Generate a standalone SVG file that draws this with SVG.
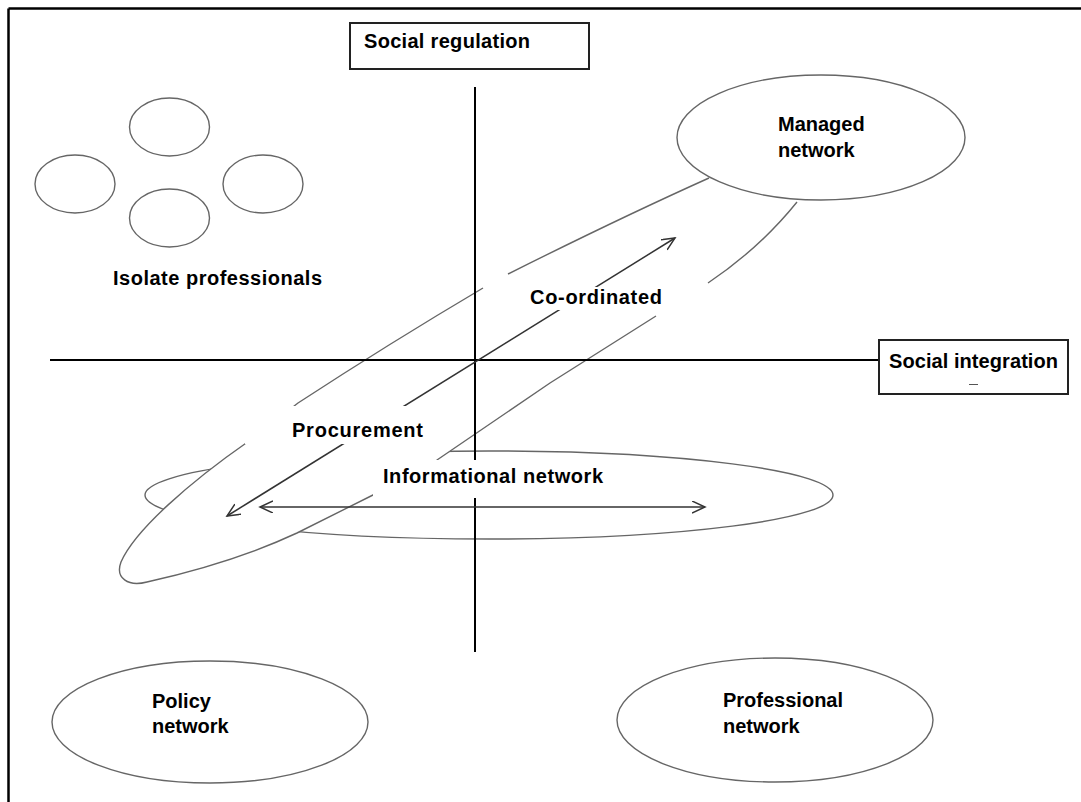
<svg xmlns="http://www.w3.org/2000/svg" width="1081" height="802" viewBox="0 0 1081 802">
<defs>
<style>
.frame{stroke:#000;stroke-width:2.5;fill:none}
.axis{stroke:#000;stroke-width:2;fill:none}
.ell{stroke:#666;stroke-width:1.4;fill:#fff}
.fill{fill:#fff;stroke:none}
.line{stroke:#666;stroke-width:1.4;fill:none}
.box{stroke:#222;stroke-width:2;fill:#fff}
.mask{fill:#fff;stroke:none}
.arrow{stroke:#333;stroke-width:1.5;fill:none}
.t{font-family:"Liberation Sans",Arial,sans-serif;font-weight:bold;font-size:20px;fill:#000}
</style>
<marker id="ah" markerUnits="userSpaceOnUse" markerWidth="16" markerHeight="14" refX="13" refY="6" orient="auto-start-reverse">
<path d="M0,0 L13,6 L0,12" fill="none" stroke="#333" stroke-width="1.5"/>
</marker>
</defs>
<rect width="1081" height="802" fill="#fff"/>
<g id="frame">
<line class="frame" x1="8.5" y1="8.5" x2="1081" y2="8.5"/>
<line class="frame" x1="8.5" y1="8.5" x2="8.5" y2="802"/>
</g>
<g id="isolate-professionals">
<ellipse class="ell" cx="169.5" cy="127" rx="40" ry="29"/>
<ellipse class="ell" cx="75" cy="184" rx="40" ry="29"/>
<ellipse class="ell" cx="263" cy="184" rx="40" ry="29"/>
<ellipse class="ell" cx="169.5" cy="218" rx="40" ry="29"/>
<text class="t" x="113" y="285" textLength="209" lengthAdjust="spacing">Isolate professionals</text>
</g>
<g id="informational-network">
<ellipse class="ell" cx="489" cy="495" rx="344" ry="44"/>
</g>
<g id="procurement-coordinated">
<path class="fill" d="M709,178 Q620,218 508,274 L483,288 Q390,343 298,403 L249,441 C190,482 135,530 121,562 C115,578 128,587 147,582 C200,570 250,555 297,533 L373,495 Q410,477 437,460 L550,383 L708,283 Q760,248 797,202 L800,150 Z"/>
<path class="line" d="M709,178 Q620,218 508,274"/>
<path class="line" d="M483,288 Q390,343 298,403 L249,441 C190,482 135,530 121,562 C115,578 128,587 147,582 C200,570 250,555 297,533 L373,495 Q410,477 437,460 L550,383 L656,316"/>
<path class="line" d="M708,283 Q760,248 797,202"/>
</g>
<g id="managed-network">
<ellipse class="ell" cx="821" cy="137.5" rx="144" ry="62.5"/>
<text class="t" x="778" y="131">Managed</text>
<text class="t" x="778" y="157">network</text>
</g>
<g id="axes">
<line class="axis" x1="475" y1="87" x2="475" y2="652"/>
<line class="axis" x1="50" y1="360" x2="879" y2="360"/>
</g>
<g id="connectors">
<line class="arrow" x1="675" y1="238" x2="227" y2="516" marker-start="url(#ah)" marker-end="url(#ah)"/>
<line class="arrow" x1="260" y1="507" x2="705" y2="507" marker-start="url(#ah)" marker-end="url(#ah)"/>
</g>
<g id="labels">
<rect class="mask" x="526" y="287" width="139" height="23"/>
<text class="t" x="530" y="304" textLength="132" lengthAdjust="spacing">Co-ordinated</text>
<rect class="mask" x="245" y="406" width="180" height="38"/>
<text class="t" x="292" y="437" textLength="131" lengthAdjust="spacing">Procurement</text>
<rect class="mask" x="373" y="460" width="237" height="38"/>
<text class="t" x="383" y="483" textLength="220" lengthAdjust="spacing">Informational network</text>
</g>
<g id="social-regulation">
<rect class="box" x="350" y="23" width="239" height="46"/>
<text class="t" x="364" y="48" textLength="166" lengthAdjust="spacing">Social regulation</text>
</g>
<g id="social-integration">
<rect class="box" x="879" y="340" width="189" height="54"/>
<text class="t" x="889" y="368" textLength="169" lengthAdjust="spacing">Social integration</text>
<line x1="969" y1="384.5" x2="978" y2="384.5" stroke="#555" stroke-width="1"/>
</g>
<g id="policy-network">
<ellipse class="ell" cx="210" cy="722" rx="158" ry="61"/>
<text class="t" x="152" y="708">Policy</text>
<text class="t" x="152" y="733">network</text>
</g>
<g id="professional-network">
<ellipse class="ell" cx="775" cy="720" rx="158" ry="62"/>
<text class="t" x="723" y="707">Professional</text>
<text class="t" x="723" y="733">network</text>
</g>
</svg>
